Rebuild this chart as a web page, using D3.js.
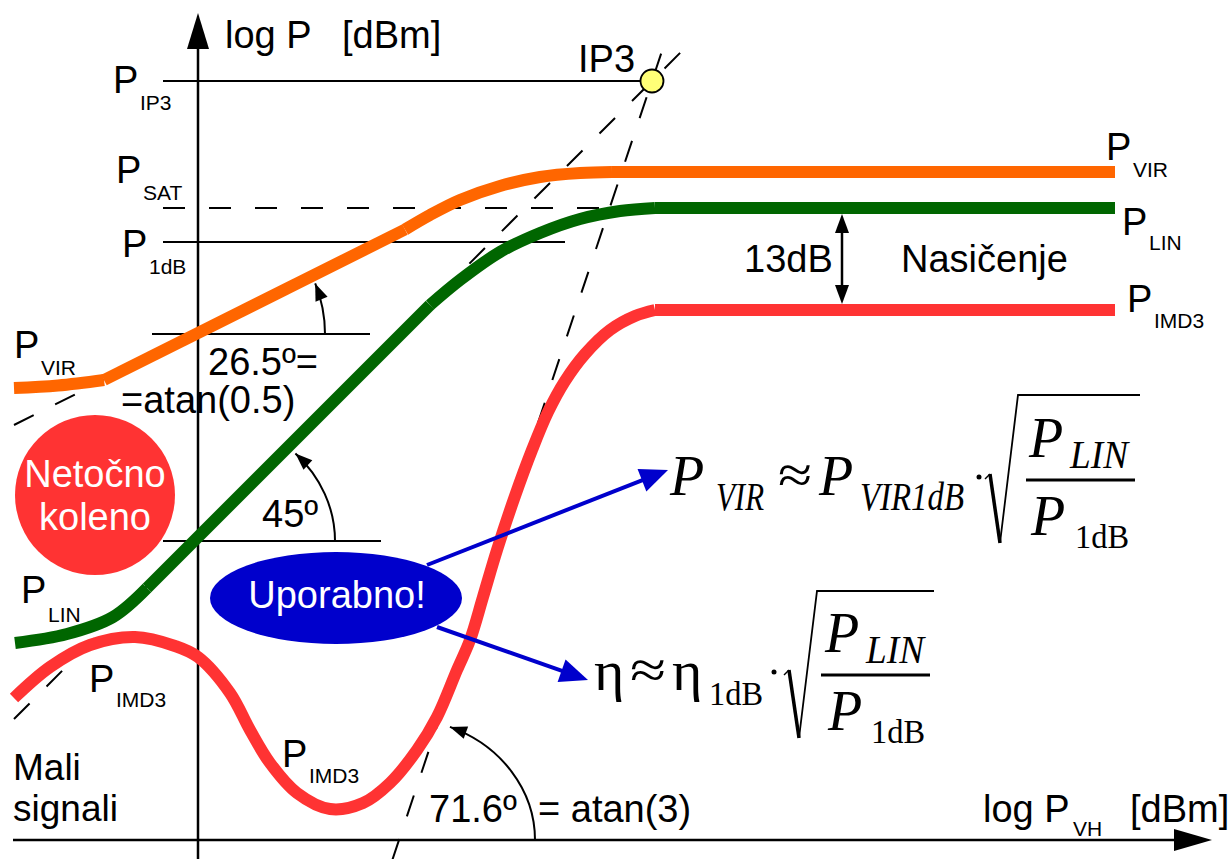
<!DOCTYPE html>
<html>
<head>
<meta charset="utf-8">
<script src="https://cdn.jsdelivr.net/npm/d3@7"></script>
<style>
  body { margin: 0; background: #fff; }
  text { font-family: "Liberation Sans", Arial, sans-serif; }
  .serif { font-family: "Liberation Serif", "Times New Roman", serif; }
</style>
</head>
<body>
<div id="chart"></div>
<script>
// curves in (input dBm, output dBm) units.
// each curve is a list of pieces (the original drawing has kinks between them)
const virCurve = [
  [[-18.4,45.2],[-14,45.45],[-9.4,46.0]],
  [[-9.4,46.0],[20.7,61.05]],
  [[20.7,61.05],[23.2,62.5],[26.2,64.0],[30.2,65.4],[34.2,66.3],[38.2,66.7],[41.4,66.8]],
  [[41.4,66.8],[91.7,66.8]]
];
const linCurve = [
  [[-18.3,19.7],[-13.1,20.6],[-8.5,22.3],[-5.1,25.2]],
  [[-5.1,25.2],[23.2,53.5]],
  [[23.2,53.5],[26.2,56.0],[30.2,58.8],[34.2,60.7],[38.2,62.1],[42.2,62.9],[45.7,63.2]],
  [[45.7,63.2],[91.7,63.2]]
];
const imd3Curve = [
  [[-18.4,14.2],[-14.8,17.3],[-10.8,19.5],[-6.3,20.3],[-2.3,19.4],[0,18.3],[3.2,14.7],[5.2,11.0],[7.2,7.7],[9.9,4.7],[13.2,3.1],[16.5,3.7],[19.2,5.7],[21.9,9.0],[23.9,12.3],[25.9,17.0],[27.2,20.0],[28.5,24.3],[29.9,29.0],[31.7,34.4],[33.4,39.0],[35.0,42.8],[36.7,45.9],[38.7,48.6],[41.2,51.0],[43.7,52.4],[45.7,53.0]],
  [[45.7,53.0],[91.7,53.0]]
];

const ip3 = [45.4, 75.9];
const levelIP3 = 75.9, levelSAT = 63.2, level1dB = 59.8;
const slopes = [0.5, 1, 3];          // P_VIR, P_LIN, P_IMD3 small-signal slopes
const angleLabels = ["26.5º=", "=atan(0.5)", "45º", "71.6º", "= atan(3)"];

const width = 1231, height = 859;
const x = d3.scaleLinear().domain([-20, 103]).range([-2, 1228]);
const y = d3.scaleLinear().domain([0, 84]).range([840, 0]);

const svg = d3.select("#chart").append("svg")
    .attr("width", width).attr("height", height);

const line = d3.line().x(d => x(d[0])).y(d => y(d[1]));
const curve = d3.line().x(d => x(d[0])).y(d => y(d[1])).curve(d3.curveCatmullRom.alpha(0.5));

function seg(u1, v1, u2, v2, dashed, w) {
  svg.append("path").attr("d", line([[u1, v1], [u2, v2]]))
    .attr("stroke", "#000").attr("stroke-width", w || 2).attr("fill", "none")
    .attr("stroke-dasharray", dashed ? "22,24" : null);
}

// dashed asymptotes
seg(-18.4, 46 + slopes[0] * (-18.4 + 9.4), -9.4, 46, true);
seg(-18.4, ip3[1] + slopes[1] * (-18.4 - ip3[0]), 49.0, ip3[1] + slopes[1] * (49.0 - ip3[0]), true);
seg(ip3[0] + (-2 - ip3[1]) / slopes[2], -2, ip3[0] + (79.8 - ip3[1]) / slopes[2], 79.8, true);
seg(-3.5, levelSAT, 40.2, levelSAT, true);

// level lines
seg(-3.5, levelIP3, ip3[0] - 1, levelIP3, false);
seg(-3.5, level1dB, 36.7, level1dB, false);
seg(-4.6, 50.6, 17.2, 50.6, false);
seg(-3.5, 29.9, 18.3, 29.9, false);

// axes
svg.append("line").attr("x1", x(0)).attr("x2", x(0)).attr("y1", 45).attr("y2", height)
  .attr("stroke", "#000").attr("stroke-width", 2.5);
svg.append("path").attr("d", `M${x(0)},13 L${x(0) - 11},49 L${x(0) + 11},49 Z`).attr("fill", "#000");
svg.append("line").attr("x1", 13).attr("x2", 1178).attr("y1", y(0)).attr("y2", y(0))
  .attr("stroke", "#000").attr("stroke-width", 2.5);
svg.append("path").attr("d", `M1212,${y(0)} L1174,${y(0) - 11} L1174,${y(0) + 11} Z`).attr("fill", "#000");

// curves
[[imd3Curve, "#ff3333"], [linCurve, "#006600"], [virCurve, "#ff6600"]].forEach(([pieces, c]) => {
  svg.append("g").selectAll("path").data(pieces).join("path")
    .attr("d", d => curve(d)).attr("fill", "none")
    .attr("stroke", c).attr("stroke-width", 12);
});

// IP3 point
svg.append("circle").attr("cx", x(ip3[0])).attr("cy", y(ip3[1])).attr("r", 11.5)
  .attr("fill", "#ffff77").attr("stroke", "#000").attr("stroke-width", 1.8);

// angle arcs with arrow heads
function angleArc(cx, cy, rx, ry, t) {
  const r = t * Math.PI / 180;
  const ex = cx + rx * Math.cos(r), ey = cy - ry * Math.sin(r);
  svg.append("path").attr("d", `M${cx + rx},${cy} A${rx},${ry} 0 0 0 ${ex},${ey}`)
    .attr("fill", "none").attr("stroke", "#000").attr("stroke-width", 2);
  let dx = -rx * Math.sin(r), dy = -ry * Math.cos(r);
  const L = Math.hypot(dx, dy); dx /= L; dy /= L;
  const len = 17, hw = 6.5;
  const bx = ex - dx * len, by = ey - dy * len;
  svg.append("path").attr("d", `M${ex},${ey} L${bx - dy * hw},${by + dx * hw} L${bx + dy * hw},${by - dx * hw} Z`)
    .attr("fill", "#000");
}
angleArc(x(-0.2), y(50.6), 129, 132, 22.5);
angleArc(x(-0.4), y(29.9), 141, 126, 44);
angleArc(x(ip3[0] - ip3[1] / slopes[2]), y(0), 136, 122, 68);

// 13 dB double arrow
(function () {
  const ax = 842, y1 = y(levelSAT) + 6, y2 = y(53.0) - 6;
  svg.append("line").attr("x1", ax).attr("x2", ax).attr("y1", y1 + 10).attr("y2", y2 - 10)
    .attr("stroke", "#000").attr("stroke-width", 2.5);
  svg.append("path").attr("d", `M${ax},${y1} L${ax - 7},${y1 + 19} L${ax + 7},${y1 + 19} Z`).attr("fill", "#000");
  svg.append("path").attr("d", `M${ax},${y2} L${ax - 7},${y2 - 19} L${ax + 7},${y2 - 19} Z`).attr("fill", "#000");
})();

// bubbles
svg.append("circle").attr("cx", 95).attr("cy", 495).attr("r", 80).attr("fill", "#ff3333");
svg.append("ellipse").attr("cx", 336).attr("cy", 598).attr("rx", 126).attr("ry", 46).attr("fill", "#0000cc");

// blue arrows
function blueArrow(x1, y1, x2, y2) {
  let dx = x2 - x1, dy = y2 - y1;
  const L = Math.hypot(dx, dy); dx /= L; dy /= L;
  const len = 28, hw = 12;
  const bx = x2 - dx * len, by = y2 - dy * len;
  svg.append("line").attr("x1", x1).attr("y1", y1).attr("x2", bx + dx * 2).attr("y2", by + dy * 2)
    .attr("stroke", "#0000cc").attr("stroke-width", 4);
  svg.append("path").attr("d", `M${x2},${y2} L${bx - dy * hw},${by + dx * hw} L${bx + dy * hw},${by - dx * hw} Z`)
    .attr("fill", "#0000cc");
}
blueArrow(427, 565, 668, 470);
blueArrow(437, 627, 588, 680);

// text helpers
function txt(s, tx, ty, size, opts) {
  opts = opts || {};
  return svg.append("text").attr("x", tx).attr("y", ty).attr("font-size", size)
    .attr("fill", opts.fill || "#000").attr("text-anchor", opts.anchor || "start").text(s);
}
function pLabel(px, py, sub, sy) {
  const t = svg.append("text").attr("x", px).attr("y", py).attr("font-size", 38);
  t.append("tspan").text("P");
  t.append("tspan").attr("x", px + 27).attr("y", sy).attr("font-size", 21).text(sub);
}

txt("log P", 225, 48, 38);
txt("[dBm]", 342, 48, 38);
txt("IP3", 578, 72, 38);

pLabel(113, 93, "IP3", 110);
pLabel(116, 183, "SAT", 200);
pLabel(122, 257, "1dB", 274);
pLabel(14, 358, "VIR", 375);
pLabel(21, 603, "LIN", 622);
pLabel(89, 692, "IMD3", 707);
pLabel(282, 767, "IMD3", 783);
pLabel(1106, 160, "VIR", 177);
pLabel(1122, 235, "LIN", 250);
pLabel(1127, 312, "IMD3", 328);

txt(angleLabels[0], 208, 375, 38);
txt(angleLabels[1], 121, 413, 38);
txt(angleLabels[2], 262, 527, 38);
txt(angleLabels[3], 429, 822, 38);
txt(angleLabels[4], 538, 822, 38);

txt("13dB", 744, 272, 38);
txt("Nasičenje", 901, 272, 38);
txt("Netočno", 95, 487, 38, { fill: "#fff", anchor: "middle" });
txt("koleno", 95, 530, 38, { fill: "#fff", anchor: "middle" });
txt("Uporabno!", 337, 608, 38, { fill: "#fff", anchor: "middle" });
txt("Mali", 13, 780, 37);
txt("signali", 13, 821, 37);

const xl = svg.append("text").attr("x", 983).attr("y", 822).attr("font-size", 38);
xl.append("tspan").text("log P");
xl.append("tspan").attr("x", 1073).attr("y", 836).attr("font-size", 21).text("VH");
xl.append("tspan").attr("x", 1130).attr("y", 822).text("[dBm]");

// formulas
function ftxt(s, tx, ty, size, italic, tl) {
  const t = svg.append("text").attr("class", "serif").attr("x", tx).attr("y", ty)
    .attr("font-size", size).attr("font-style", italic ? "italic" : "normal").text(s);
  if (tl) t.attr("textLength", tl).attr("lengthAdjust", "spacingAndGlyphs");
  return t;
}
function radical(x0, yTop, yBot, xEnd, yMid) {
  svg.append("path").attr("d", `M${x0},${yMid + 5} L${x0 + 5},${yMid}`)
    .attr("fill", "none").attr("stroke", "#000").attr("stroke-width", 1.5);
  svg.append("path").attr("d", `M${x0 + 5},${yMid} L${x0 + 15},${yBot}`)
    .attr("fill", "none").attr("stroke", "#000").attr("stroke-width", 3.5);
  svg.append("path").attr("d", `M${x0 + 15},${yBot} L${x0 + 33},${yTop} L${xEnd},${yTop}`)
    .attr("fill", "none").attr("stroke", "#000").attr("stroke-width", 1.8);
}

ftxt("P", 670, 495, 56, true);
ftxt("VIR", 716, 510, 40, true, 48);
ftxt("≈", 778, 493, 54, false, 34);
ftxt("P", 819, 495, 56, true);
ftxt("VIR1dB", 860, 510, 40, true, 104);
svg.append("circle").attr("cx", 979).attr("cy", 477).attr("r", 2.5).attr("fill", "#000");
radical(985, 395, 543, 1140, 474);
ftxt("P", 1029, 457, 56, true);
ftxt("LIN", 1070, 468, 40, true, 58);
svg.append("line").attr("x1", 1026).attr("x2", 1135).attr("y1", 480).attr("y2", 480).attr("stroke", "#000").attr("stroke-width", 3);
ftxt("P", 1031, 535, 56, true);
ftxt("1dB", 1075, 548, 34, false, 54);

ftxt("η", 594, 690, 58, false);
ftxt("≈", 630, 688, 54, false, 36);
ftxt("η", 672, 690, 58, false);
ftxt("1dB", 709, 705, 34, false, 54);
svg.append("circle").attr("cx", 774).attr("cy", 672).attr("r", 2.5).attr("fill", "#000");
radical(784, 591, 738, 934, 670);
ftxt("P", 825, 652, 56, true);
ftxt("LIN", 866, 663, 40, true, 58);
svg.append("line").attr("x1", 821).attr("x2", 930).attr("y1", 675).attr("y2", 675).attr("stroke", "#000").attr("stroke-width", 3);
ftxt("P", 828, 730, 56, true);
ftxt("1dB", 871, 743, 34, false, 54);
</script>
</body>
</html>
